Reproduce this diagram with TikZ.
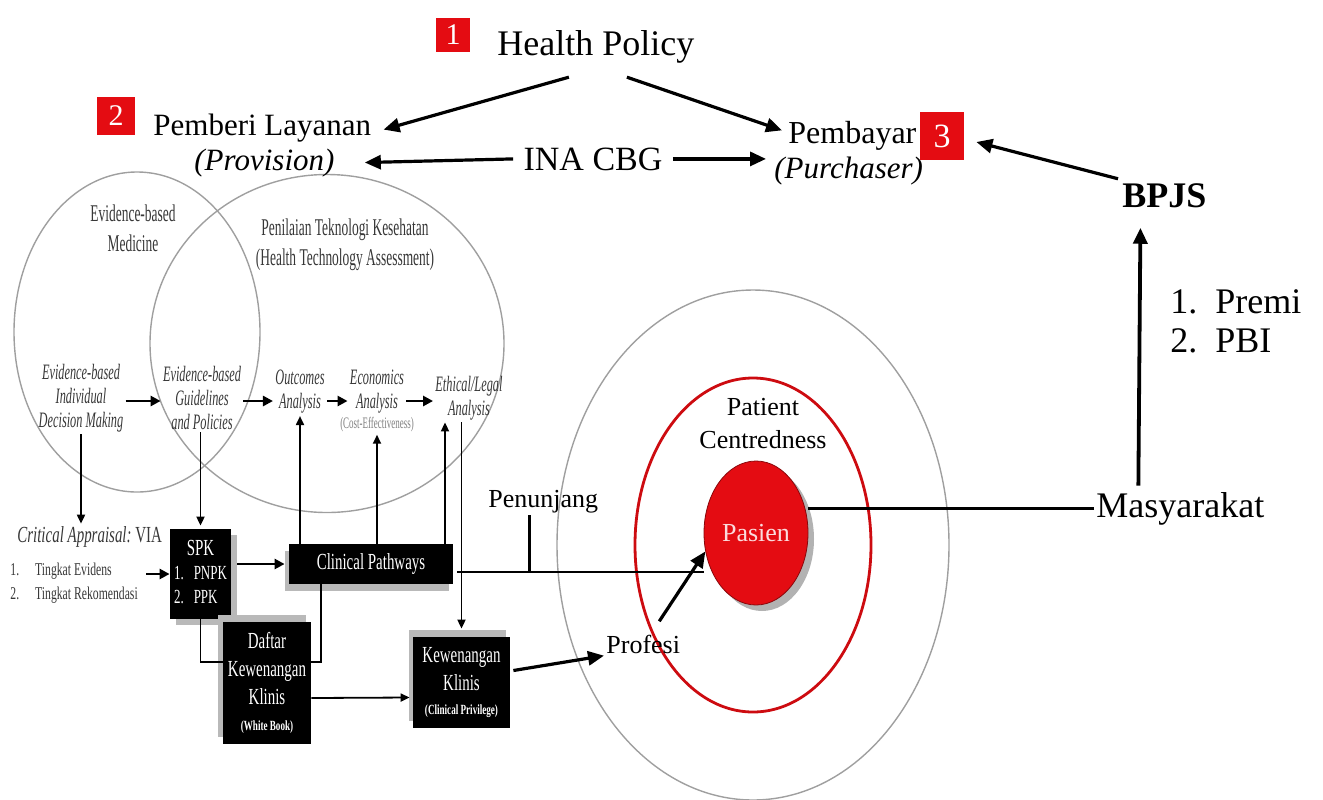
\documentclass[tikz,border=0pt]{standalone}
\usepackage{fontspec}
\setmainfont{Liberation Serif}
\newfontfamily\narrow[FakeStretch=0.65]{Liberation Serif}
\newfontfamily\narrowi[FakeStretch=0.56]{Liberation Serif}
\usetikzlibrary{arrows.meta,calc,shadows,shapes.geometric}
\definecolor{pred}{RGB}{228,12,18}
\definecolor{dgray}{RGB}{55,55,55}
\begin{document}
\begin{tikzpicture}[x=0.5pt,y=-0.5pt,
  big/.style={-{Triangle[length=8pt,width=7pt]},line width=1.6pt},
  marr/.style={-{Triangle[length=5pt,width=5pt]},line width=1.4pt},
  sarr/.style={-{Triangle[length=4.5pt,width=4pt]},line width=0.9pt},
  ln/.style={line width=0.9pt},
  redsq/.style={fill=pred,text=white,inner sep=0pt},
  lbl/.style={inner sep=1pt},
  circ/.style={ellipse,draw=gray!75,line width=0.7pt,inner sep=0pt},
  head/.style={text=dgray,align=center,font=\narrowi\fontsize{12}{15}\selectfont,inner sep=0pt},
  itm/.style={text=dgray,align=center,font=\narrowi\itshape\fontsize{11}{12}\selectfont,inner sep=1pt},
  blk/.style={fill=black,text=white,align=center,inner sep=0pt,font=\narrow\fontsize{11.5}{14}\selectfont},
]
\useasboundingbox (0,0) rectangle (1323,799);
% circles
\node[circ,minimum width=196pt,minimum height=255pt] (outer) at (753,545) {};
\node[ellipse,draw=pred!90!black,line width=1.4pt,minimum width=118pt,minimum height=167pt,inner sep=0pt] (ring) at (753,545) {};
\node[circ,minimum width=123pt,minimum height=160pt] (ebmc) at (137,332) {};
\node[circ,minimum width=177pt,minimum height=169pt] (htac) at (327,343.5) {};

% top
\node[redsq,minimum size=17pt,font=\fontsize{15}{15}\selectfont] (n1) at (453,35) {1};
\node[lbl,anchor=base west,font=\fontsize{18}{18}\selectfont] (hp) at (495,55) {Health Policy};
\node[redsq,minimum size=19pt,font=\fontsize{15}{15}\selectfont] (n2) at (116,116) {2};
\node[lbl,anchor=base west,font=\fontsize{15.5}{18}\selectfont] (pl) at (151,135) {Pemberi Layanan};
\node[lbl,anchor=base west,font=\itshape\fontsize{15.5}{18}\selectfont] (pv) at (192,170) {(Provision)};
\node[lbl,anchor=base west,font=\fontsize{16}{18}\selectfont] (pb) at (786,143) {Pembayar};
\node[lbl,anchor=base west,font=\itshape\fontsize{15.5}{18}\selectfont] (pu) at (772,178) {(Purchaser)};
\node[redsq,minimum width=22pt,minimum height=24pt,font=\fontsize{17}{17}\selectfont] (n3) at (942,136) {3};
\node[lbl,anchor=base,font=\fontsize{17}{18}\selectfont] (ina) at (593,170) {INA CBG};
\node[lbl,anchor=base west,font=\bfseries\fontsize{18}{18}\selectfont] (bpjs) at (1120,207) {BPJS};
\node[lbl,anchor=base west,font=\fontsize{18}{18}\selectfont] (pr) at (1168,313) {1.\ \ Premi};
\node[lbl,anchor=base west,font=\fontsize{18}{18}\selectfont] (pbi) at (1168,352) {2.\ \ PBI};
\node[lbl,anchor=base west,font=\fontsize{18}{18}\selectfont] (ms) at (1094,517) {Masyarakat};

\draw[big] ($(hp.south)+(-27,12)$) -- ($(pl.east)+(10,2)$);
\draw[big] ($(hp.south)+(31,12)$) -- ($(pb.west)+(-4,-5)$);
\draw[big] ($(ina.west)+(-8,0)$) -- ($(pv.east)+(28,0)$);
\draw[big] ($(ina.east)+(8,0)$) -- ($(ina.east -| pu.west)+(-6,0)$);
\draw[big] ($(bpjs.north west)+(-2,-2)$) -- ($(n3.east)+(12,6)$);
\draw[big,line width=1.9pt] ($(ms.north)+(-42,-4)$) -- ($(bpjs.south)+(-24,18)$);

% patient side
\node[align=center,font=\fontsize{13}{16.5}\selectfont,inner sep=0pt] (pc) at (763,424) {Patient\\Centredness};
\node[ellipse,fill=pred,draw=pred!60!black,line width=0.4pt,minimum width=52pt,minimum height=72pt,inner sep=0pt,text=white!85!pred,font=\fontsize{13}{13}\selectfont,drop shadow={shadow xshift=3pt,shadow yshift=-3pt,fill=gray!60,opacity=1}] (pas) at (756,533) {Pasien};
\node[lbl,anchor=base west,font=\fontsize{13}{13}\selectfont] (pn) at (486,507) {Penunjang};
\node[lbl,anchor=base west,font=\fontsize{13}{13}\selectfont] (pf) at (604,653) {Profesi};
\draw[line width=1.4pt] (ms.west) -- (ms.west -| pas.east);

% circle texts
\node[head] (ebmt) at (133,228) {Evidence-based\\Medicine};
\node[head] (htat) at (345,245) {Penilaian Teknologi Kesehatan\\(Health Technology Assessment)};
\node[itm] (ebdm) at (81,398) {Evidence-based\\Individual\\Decision Making};
\node[itm] (ebgp) at (202,398) {Evidence-based\\Guidelines\\and Policies};
\node[itm] (oa) at (300,392) {Outcomes\\Analysis};
\node[itm] (ea) at (377,392) {Economics\\Analysis};
\node[itm,font=\narrowi\fontsize{8}{9}\selectfont,text=gray] (ce) at (377,425) {(Cost-Effectiveness)};
\node[itm] (el) at (469,398) {Ethical/Legal\\Analysis};
\coordinate (hy) at (0,401);
\draw[marr] (ebdm.east |- hy) -- (ebgp.west |- hy);
\draw[marr] (ebgp.east |- hy) -- (oa.west |- hy);
\draw[marr] (oa.east |- hy) -- (ea.west |- hy);
\draw[marr] (ea.east |- hy) -- (el.west |- hy);

% lower left
\node[lbl,anchor=base west,font=\narrow\fontsize{11.5}{12}\selectfont,text=dgray] (ca) at (15,542) {\itshape Critical Appraisal:\upshape\ VIA};
\node[lbl,anchor=west,align=left,font=\narrow\fontsize{9}{12}\selectfont,text=dgray] (tk) at (8,583) {1.\hspace{8pt}Tingkat Evidens\\2.\hspace{8pt}Tingkat Rekomendasi};
\node[blk,minimum width=30.5pt,minimum height=45pt,drop shadow={shadow xshift=3pt,shadow yshift=-3pt,fill=gray!55,opacity=1}] (spk) at (200.5,574) {\begin{tabular}{@{}l@{\hspace{5pt}}l@{}}\multicolumn{2}{c}{SPK}\\[-2pt] \fontsize{10}{12}\selectfont 1. & \fontsize{10}{12}\selectfont PNPK\\[-2pt] \fontsize{10}{12}\selectfont 2. & \fontsize{10}{12}\selectfont PPK\end{tabular}};
\node[blk,minimum width=82pt,minimum height=20pt,drop shadow={shadow xshift=-2pt,shadow yshift=-3.5pt,fill=gray!55,opacity=1}] (cp) at (371,564) {Clinical Pathways};
\node[blk,minimum width=44pt,minimum height=61pt,drop shadow={shadow xshift=-2.5pt,shadow yshift=3.5pt,fill=gray!55,opacity=1}] (dk) at (267,683) {Daftar\\Kewenangan\\Klinis\\[-1pt]{\bfseries\fontsize{7}{8}\selectfont(White Book)}};
\node[blk,minimum width=48.5pt,minimum height=45.5pt,drop shadow={shadow xshift=-2pt,shadow yshift=3.5pt,fill=gray!55,opacity=1}] (kk) at (461.5,682.5) {Kewenangan\\Klinis\\[-2pt]{\bfseries\fontsize{7}{8}\selectfont(Clinical Privilege)}};

\draw[sarr] (ebdm.south) -- (ebdm.south |- ca.north);
\draw[sarr] (ebgp.south -| spk.north) -- ($(spk.north)+(0,-3)$);
\draw[marr,shorten <=3pt] (tk.east |- spk.west) -- (spk.west);
\draw[marr,shorten <=3pt,shorten >=2pt] (spk.east |- cp.west) -- (cp.west);
\draw[sarr] (cp.north -| oa.south) -- (oa.south);
\draw[sarr] (cp.north -| ce.south) -- (ce.south);
\coordinate (eu) at ($(el.south)+(-24,0)$);
\draw[sarr] (cp.north -| eu) -- (eu);
\draw[sarr,shorten >=4pt] (el.south -| kk.north) -- (kk.north);
\draw[ln] (spk.south) |- ($(dk.west)+(0,-21)$);
\draw[ln] ($(cp.south)+(-50,0)$) |- ($(dk.east)+(0,-21)$);
\draw[sarr] ($(dk.east)+(0,15)$) -- ($(kk.west)+(-3,15)$);
\draw[big] ($(kk.east)+(3,-12)$) -- (pf.south west);
\draw[big] ($(pf.north)+(16,-11)$) -- (pas.200);
\coordinate (cpo) at ($(cp.east)+(4,8)$);
\draw[line width=1.4pt] (cpo) -- (cpo -| pas.west);
\coordinate (pt) at ($(pn.south)+(-14,0)$);
\draw[line width=1.4pt] (pt) -- (pt |- cpo);
\end{tikzpicture}
\end{document}
